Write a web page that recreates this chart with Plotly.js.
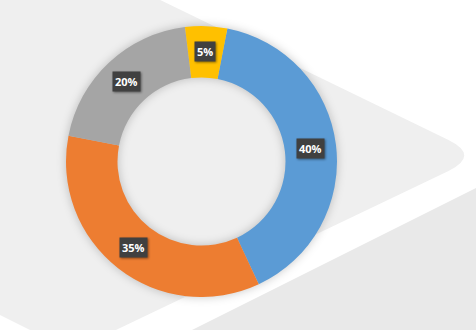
<!DOCTYPE html>
<html>
<head>
<meta charset="utf-8">
<script src="https://cdn.plot.ly/plotly-3.0.1.min.js"></script>
<style>
  html, body { margin: 0; padding: 0; background: #ffffff; }
  #chart { width: 476px; height: 330px; }
  .pielayer .trace { filter: drop-shadow(0px 0px 5px rgba(0,0,0,0.22)); }
  .annotation rect.bg { filter: drop-shadow(1.5px 1.5px 1px rgba(0,0,0,0.45)); }
</style>
</head>
<body>
<div id="chart"></div>
<script>
// ---- data ----
var categories = ["Series A", "Series B", "Series C", "Series D"];
var values = [40, 35, 20, 5];
var labelsText = ["40%", "35%", "20%", "5%"];
var sliceColors = ["#5B9BD5", "#ED7D31", "#A5A5A5", "#FFC000"];

// ---- layout constants ----
var W = 476, H = 330;
var cxPx = 201.5, cyPx = 161.5, R = 135.5;
var hole = 0.62;
var rotation = 11;

function px(x) { return x / W; }
function py(y) { return 1 - y / H; }
function pathFrom(cmds) {
  return cmds.map(function (c) {
    if (c[0] === 'Z') return 'Z';
    var s = c[0];
    for (var i = 1; i < c.length; i += 2) {
      s += (i > 1 ? ' ' : '') + px(c[i]).toFixed(5) + ',' + py(c[i + 1]).toFixed(5);
    }
    return s;
  }).join(' ');
}

// background decoration shapes (pixel coords converted to paper)
var triPath = pathFrom([
  ['M', -200, -175],
  ['L', 448.5, 140],
  ['Q', 480, 155.5, 448.5, 171],
  ['L', 72, 351],
  ['L', -200, 215],
  ['Z']
]);
var lowPath = pathFrom([
  ['M', 600, 126],
  ['L', 600, 500],
  ['L', -80, 500],
  ['L', -80, 466],
  ['Z']
]);

var domX = [px(cxPx - R), px(cxPx + R)];
var domY = [py(cyPx + R), py(cyPx - R)];

var trace = {
  type: 'pie',
  labels: categories,
  values: values,
  hole: hole,
  sort: false,
  direction: 'clockwise',
  rotation: rotation,
  marker: { colors: sliceColors, line: { width: 0 } },
  textinfo: 'none',
  hoverinfo: 'none',
  showlegend: false,
  domain: { x: domX, y: domY }
};

// data labels at the mid-ring of each slice
var total = values.reduce(function (a, b) { return a + b; }, 0);
var annotations = [];
var acc = 0;
var rMid = R * (1 + hole) / 2;
for (var i = 0; i < values.length; i++) {
  var mid = rotation + (acc + values[i] / 2) / total * 360;
  acc += values[i];
  var a = mid * Math.PI / 180;
  annotations.push({
    xref: 'paper', yref: 'paper',
    x: px(cxPx + rMid * Math.sin(a)),
    y: py(cyPx - rMid * Math.cos(a)),
    text: '<b>' + labelsText[i] + '</b>',
    showarrow: false,
    font: { family: 'Open Sans, sans-serif', size: 11, color: '#ffffff' },
    bgcolor: '#404040',
    borderpad: 2,
    xanchor: 'center', yanchor: 'middle'
  });
}

var layout = {
  width: W, height: H,
  margin: { l: 0, r: 0, t: 0, b: 0 },
  paper_bgcolor: '#ffffff',
  plot_bgcolor: '#ffffff',
  showlegend: false,
  shapes: [
    { type: 'path', xref: 'paper', yref: 'paper', path: triPath, fillcolor: '#efefef', line: { width: 0 }, layer: 'below' },
    { type: 'path', xref: 'paper', yref: 'paper', path: lowPath, fillcolor: '#e9e9e9', line: { width: 0 }, layer: 'below' }
  ],
  annotations: annotations
};

Plotly.newPlot('chart', [trace], layout, { displayModeBar: false, staticPlot: true });
</script>
</body>
</html>
